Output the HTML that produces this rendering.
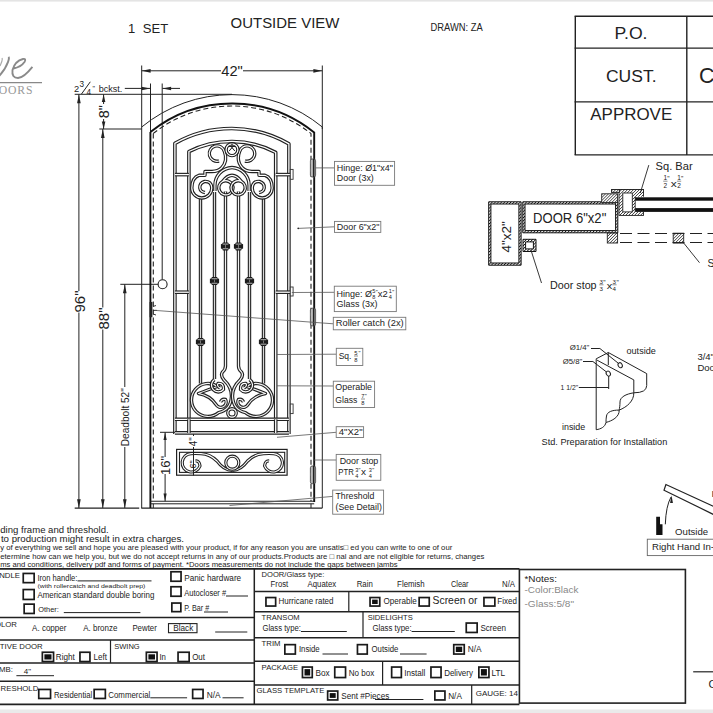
<!DOCTYPE html>
<html><head><meta charset="utf-8"><style>html,body{margin:0;padding:0;background:#fff;} svg{display:block;}</style></head>
<body><svg width="713" height="713" viewBox="0 0 713 713" font-family="Liberation Sans, sans-serif">
<rect x="0" y="0" width="713" height="713" fill="#fff"/>
<rect x="0" y="0" width="713" height="1.6" fill="#e4e4e4"/>
<rect x="0" y="709.5" width="713" height="3.5" fill="#eaeaea"/>
<text x="127.9" y="32.5" font-size="13" fill="#222" text-anchor="start" font-family="Liberation Sans" >1</text>
<text x="142.8" y="32.5" font-size="13" fill="#222" text-anchor="start" font-family="Liberation Sans" textLength="25.4" lengthAdjust="spacingAndGlyphs" >SET</text>
<text x="230.6" y="28.3" font-size="15.5" fill="#222" text-anchor="start" font-family="Liberation Sans" textLength="108.8" lengthAdjust="spacingAndGlyphs" >OUTSIDE VIEW</text>
<text x="430.5" y="30.7" font-size="10.4" fill="#222" text-anchor="start" font-family="Liberation Sans" textLength="52.2" lengthAdjust="spacingAndGlyphs" >DRAWN: ZA</text>
<line x1="574.6" y1="16.2" x2="713" y2="16.2" stroke="#222" stroke-width="1.4" />
<line x1="574.6" y1="48.1" x2="713" y2="48.1" stroke="#222" stroke-width="1.4" />
<line x1="574.6" y1="101.9" x2="713" y2="101.9" stroke="#222" stroke-width="1.4" />
<line x1="574.6" y1="154.9" x2="713" y2="154.9" stroke="#222" stroke-width="1.4" />
<line x1="575.3" y1="16.2" x2="575.3" y2="154.9" stroke="#222" stroke-width="1.4" />
<line x1="686.8" y1="16.2" x2="686.8" y2="154.9" stroke="#222" stroke-width="1.4" />
<text x="614.5" y="38.7" font-size="16.5" fill="#222" text-anchor="start" font-family="Liberation Sans" textLength="33" lengthAdjust="spacingAndGlyphs" >P.O.</text>
<text x="606" y="81.7" font-size="17.2" fill="#222" text-anchor="start" font-family="Liberation Sans" textLength="50.5" lengthAdjust="spacingAndGlyphs" >CUST.</text>
<text x="590.3" y="119.9" font-size="17.2" fill="#222" text-anchor="start" font-family="Liberation Sans" textLength="81.9" lengthAdjust="spacingAndGlyphs" >APPROVE</text>
<text x="699" y="82.6" font-size="21.5" fill="#222" text-anchor="start" font-family="Liberation Sans" >C</text>
<path d="M-1,76 Q5,70 8,62 Q9.5,58 8.5,56.8" stroke="#8a8a8a" stroke-width="2.0" fill="none" />
<path d="M0,66 Q3,60 2,58" stroke="#aaa" stroke-width="1.2" fill="none" />
<path d="M13.5,68.5 Q21,67 24.5,62 Q26.5,58.5 23,59 Q15,61 12.5,70 Q11.5,78 18,78 Q24,77.5 32.4,66.8" stroke="#8a8a8a" stroke-width="1.9" fill="none" />
<line x1="0" y1="82.6" x2="42" y2="82.6" stroke="#888" stroke-width="1.2" />
<text x="33.2" y="94.4" font-size="11.7" fill="#999" text-anchor="end" font-family="Liberation Serif" letter-spacing="0.8">OORS</text>
<line x1="141.7" y1="65.5" x2="141.7" y2="508.1" stroke="#222" stroke-width="1.0" />
<line x1="322.3" y1="65.5" x2="322.3" y2="129" stroke="#222" stroke-width="1.0" />
<line x1="141.7" y1="70.8" x2="221" y2="70.8" stroke="#222" stroke-width="1.0" />
<line x1="243" y1="70.8" x2="322.3" y2="70.8" stroke="#222" stroke-width="1.0" />
<path d="M141.9,70.8 L150.65,68.96 L150.65,72.64 Z" fill="#222"/>
<path d="M322.1,70.8 L313.35,68.96 L313.35,72.64 Z" fill="#222"/>
<text x="232" y="76.3" font-size="14.5" fill="#222" text-anchor="middle" font-family="Liberation Sans" textLength="21.5" lengthAdjust="spacingAndGlyphs" >42"</text>
<line x1="150.5" y1="83.5" x2="150.5" y2="134" stroke="#222" stroke-width="1.0" />
<line x1="162.2" y1="83.5" x2="162.2" y2="279.5" stroke="#222" stroke-width="1.0" />
<line x1="124.8" y1="88.4" x2="150.3" y2="88.4" stroke="#222" stroke-width="1.0" />
<path d="M150.3,88.4 L141.55,86.64 L141.55,90.16000000000001 Z" fill="#222"/>
<line x1="162.4" y1="88.4" x2="180" y2="88.4" stroke="#222" stroke-width="1.0" />
<path d="M162.4,88.4 L171.15,86.64 L171.15,90.16000000000001 Z" fill="#222"/>
<text x="73.9" y="91.9" font-size="9.3" fill="#222" text-anchor="start" font-family="Liberation Sans" >2</text>
<text x="79.6" y="87.3" font-size="8.2" fill="#222" text-anchor="start" font-family="Liberation Sans" >3</text>
<path d="M81.5,94 L90.3,81.8" stroke="#222" stroke-width="1.0" fill="none" />
<text x="86.4" y="95.3" font-size="8.2" fill="#222" text-anchor="start" font-family="Liberation Sans" >4</text>
<text x="92.6" y="90.5" font-size="7" fill="#222" text-anchor="start" font-family="Liberation Sans" >"</text>
<text x="98.7" y="91.9" font-size="9.3" fill="#222" text-anchor="start" font-family="Liberation Sans" textLength="23.6" lengthAdjust="spacingAndGlyphs" >bckst.</text>
<line x1="74.7" y1="94.3" x2="232" y2="94.3" stroke="#222" stroke-width="1.0" />
<line x1="78.9" y1="94.3" x2="78.9" y2="291" stroke="#222" stroke-width="1.0" />
<line x1="78.9" y1="312.5" x2="78.9" y2="508" stroke="#222" stroke-width="1.0" />
<path d="M78.9,94.5 L77.06,103.25 L80.74000000000001,103.25 Z" fill="#222"/>
<path d="M78.9,508 L77.06,499.25 L80.74000000000001,499.25 Z" fill="#222"/>
<text x="0" y="0" font-size="15" fill="#222" font-family="Liberation Sans" text-anchor="middle" transform="translate(84.6,301.5) rotate(-90)">96"</text>
<line x1="103.6" y1="94.3" x2="103.6" y2="104" stroke="#222" stroke-width="1.0" />
<line x1="103.6" y1="119" x2="103.6" y2="129" stroke="#222" stroke-width="1.0" />
<path d="M103.6,94.5 L101.83999999999999,102.0 L105.36,102.0 Z" fill="#222"/>
<path d="M103.6,129 L101.83999999999999,121.5 L105.36,121.5 Z" fill="#222"/>
<text x="0" y="0" font-size="14.5" fill="#222" font-family="Liberation Sans" text-anchor="middle" transform="translate(108.6,111.7) rotate(-90)">8"</text>
<line x1="99.3" y1="129" x2="141.7" y2="129" stroke="#222" stroke-width="1.0" />
<line x1="102.8" y1="129" x2="102.8" y2="307.5" stroke="#222" stroke-width="1.0" />
<line x1="102.8" y1="329.5" x2="102.8" y2="508" stroke="#222" stroke-width="1.0" />
<path d="M102.8,129.3 L100.96,138.05 L104.64,138.05 Z" fill="#222"/>
<path d="M102.8,508 L100.96,499.25 L104.64,499.25 Z" fill="#222"/>
<text x="0" y="0" font-size="15" fill="#222" font-family="Liberation Sans" text-anchor="middle" transform="translate(108.6,318.5) rotate(-90)">88"</text>
<line x1="120.3" y1="284.3" x2="158.1" y2="284.3" stroke="#222" stroke-width="1.0" />
<line x1="124.8" y1="284.3" x2="124.8" y2="387" stroke="#222" stroke-width="1.0" />
<line x1="124.8" y1="447" x2="124.8" y2="508" stroke="#222" stroke-width="1.0" />
<path d="M124.8,284.6 L122.96,293.35 L126.64,293.35 Z" fill="#222"/>
<path d="M124.8,508 L122.96,499.25 L126.64,499.25 Z" fill="#222"/>
<text x="0" y="0" font-size="10.3" fill="#222" font-family="Liberation Sans" text-anchor="middle" transform="translate(128.9,417.2) rotate(-90)" textLength="58" lengthAdjust="spacingAndGlyphs">Deadbolt 52"</text>
<circle cx="162.6" cy="284.3" r="4.5" fill="none" stroke="#222" stroke-width="1.1"/>
<line x1="74.7" y1="508.1" x2="139.2" y2="508.1" stroke="#222" stroke-width="1.2" />
<line x1="141.3" y1="508.1" x2="322.3" y2="508.1" stroke="#222" stroke-width="1.2" />
<path d="M141.7,127.01 A142,142 0 0 1 322.3,127.01" stroke="#222" stroke-width="1.0" fill="none" />
<line x1="322.3" y1="127" x2="322.3" y2="508.1" stroke="#222" stroke-width="1.0" />
<path d="M150.4,131.99 A131.1,131.1 0 0 1 314.2,132.47 L314.2,502 M150.4,131.99 L150.4,508" stroke="#111" stroke-width="1.9" fill="none" />
<path d="M153.3,133.41 A126.7,126.7 0 0 1 311.0,133.65 L311,501 M153.3,133.41 L153.3,501" stroke="#222" stroke-width="1.1" fill="none" stroke-dasharray="5,3"/>
<line x1="150.4" y1="501.3" x2="314.2" y2="501.3" stroke="#222" stroke-width="1.1" />
<line x1="150.4" y1="503.8" x2="314.2" y2="503.8" stroke="#222" stroke-width="1.0" />
<line x1="153.3" y1="503.8" x2="153.3" y2="508" stroke="#222" stroke-width="1.0" />
<line x1="311" y1="503.8" x2="311" y2="508" stroke="#222" stroke-width="1.0" />
<path d="M174.9,433.9 L174.9,143.34 A115,115 0 0 1 288.9,143.91 L288.9,433.9" stroke="#222" stroke-width="3.6" fill="none" stroke-linecap="butt" stroke-linejoin="round"/>
<path d="M174.9,433.9 L174.9,143.34 A115,115 0 0 1 288.9,143.91 L288.9,433.9" stroke="#fff" stroke-width="1.3" fill="none" stroke-linecap="butt" stroke-linejoin="round"/>
<path d="M188.9,419.5 L188.9,151.54 A95,95 0 0 1 275.7,152.46 L275.7,419.5" stroke="#222" stroke-width="3.6" fill="none" stroke-linecap="butt" stroke-linejoin="round"/>
<path d="M188.9,419.5 L188.9,151.54 A95,95 0 0 1 275.7,152.46 L275.7,419.5" stroke="#fff" stroke-width="1.3" fill="none" stroke-linecap="butt" stroke-linejoin="round"/>
<path d="M174.9,174.6 L188.9,174.6" stroke="#222" stroke-width="3.6" fill="none" stroke-linecap="butt" stroke-linejoin="round"/>
<path d="M174.9,174.6 L188.9,174.6" stroke="#fff" stroke-width="1.3" fill="none" stroke-linecap="butt" stroke-linejoin="round"/>
<path d="M275.7,174.6 L291.5,174.6" stroke="#222" stroke-width="3.6" fill="none" stroke-linecap="butt" stroke-linejoin="round"/>
<path d="M275.7,174.6 L291.5,174.6" stroke="#fff" stroke-width="1.3" fill="none" stroke-linecap="butt" stroke-linejoin="round"/>
<path d="M174.9,292.2 L188.9,292.2" stroke="#222" stroke-width="3.6" fill="none" stroke-linecap="butt" stroke-linejoin="round"/>
<path d="M174.9,292.2 L188.9,292.2" stroke="#fff" stroke-width="1.3" fill="none" stroke-linecap="butt" stroke-linejoin="round"/>
<path d="M275.7,292.2 L291.5,292.2" stroke="#222" stroke-width="3.6" fill="none" stroke-linecap="butt" stroke-linejoin="round"/>
<path d="M275.7,292.2 L291.5,292.2" stroke="#fff" stroke-width="1.3" fill="none" stroke-linecap="butt" stroke-linejoin="round"/>
<path d="M174.9,419.3 L288.9,419.3" stroke="#222" stroke-width="3.6" fill="none" stroke-linecap="butt" stroke-linejoin="round"/>
<path d="M174.9,419.3 L288.9,419.3" stroke="#fff" stroke-width="1.3" fill="none" stroke-linecap="butt" stroke-linejoin="round"/>
<path d="M174.9,432.9 L288.9,432.9" stroke="#222" stroke-width="3.6" fill="none" stroke-linecap="butt" stroke-linejoin="round"/>
<path d="M174.9,432.9 L288.9,432.9" stroke="#fff" stroke-width="1.3" fill="none" stroke-linecap="butt" stroke-linejoin="round"/>
<path d="M188.9,419.3 L188.9,432.9" stroke="#222" stroke-width="3.6" fill="none" stroke-linecap="butt" stroke-linejoin="round"/>
<path d="M188.9,419.3 L188.9,432.9" stroke="#fff" stroke-width="1.3" fill="none" stroke-linecap="butt" stroke-linejoin="round"/>
<path d="M275.7,419.3 L275.7,432.9" stroke="#222" stroke-width="3.6" fill="none" stroke-linecap="butt" stroke-linejoin="round"/>
<path d="M275.7,419.3 L275.7,432.9" stroke="#fff" stroke-width="1.3" fill="none" stroke-linecap="butt" stroke-linejoin="round"/>
<rect x="290.3" y="169.4" width="2.8" height="9.900000000000006" stroke="#333" stroke-width="0.9" fill="#fff" />
<rect x="290.3" y="287" width="2.8" height="9" stroke="#333" stroke-width="0.9" fill="#fff" />
<rect x="290.3" y="404" width="2.8" height="9.600000000000023" stroke="#333" stroke-width="0.9" fill="#fff" />
<rect x="310.4" y="159" width="5.2" height="18" rx="1.8" fill="#bbb" stroke="#555" stroke-width="0.9"/>
<line x1="313.7" y1="159" x2="313.7" y2="177" stroke="#222" stroke-width="1.6" />
<rect x="310.4" y="308.2" width="5.2" height="17.69999999999999" rx="1.8" fill="#bbb" stroke="#555" stroke-width="0.9"/>
<line x1="313.7" y1="308.2" x2="313.7" y2="325.9" stroke="#222" stroke-width="1.6" />
<rect x="310.4" y="466" width="5.2" height="17.69999999999999" rx="1.8" fill="#bbb" stroke="#555" stroke-width="0.9"/>
<line x1="313.7" y1="466" x2="313.7" y2="483.7" stroke="#222" stroke-width="1.6" />
<rect x="149.6" y="302" width="2.8" height="15.2" stroke="#222" stroke-width="0" fill="#222" />
<path d="M153,306.5 L156,305.5 M153,310.4 L157,310.4 M153,314 L156,315" stroke="#222" stroke-width="0.9" fill="none" />
<path d="M200.5,197 L200.5,383.5" stroke="#222" stroke-width="3.4" fill="none" stroke-linecap="butt" stroke-linejoin="round"/>
<path d="M200.5,197 L200.5,383.5" stroke="#d8d8d8" stroke-width="1.2" fill="none" stroke-linecap="butt" stroke-linejoin="round"/>
<path d="M 263.50 197 L 263.50 383.5" stroke="#222" stroke-width="3.4" fill="none" stroke-linecap="butt" stroke-linejoin="round"/>
<path d="M 263.50 197 L 263.50 383.5" stroke="#d8d8d8" stroke-width="1.2" fill="none" stroke-linecap="butt" stroke-linejoin="round"/>
<path d="M214.5,192 L214.5,379" stroke="#222" stroke-width="3.4" fill="none" stroke-linecap="butt" stroke-linejoin="round"/>
<path d="M214.5,192 L214.5,379" stroke="#d8d8d8" stroke-width="1.2" fill="none" stroke-linecap="butt" stroke-linejoin="round"/>
<path d="M 249.50 192 L 249.50 379" stroke="#222" stroke-width="3.4" fill="none" stroke-linecap="butt" stroke-linejoin="round"/>
<path d="M 249.50 192 L 249.50 379" stroke="#d8d8d8" stroke-width="1.2" fill="none" stroke-linecap="butt" stroke-linejoin="round"/>
<path d="M225.5,191.5 L225.5,366 Q225.5,369.5 222.5,372 Q220,375.5 224,380 Q231.5,387 231.5,396 Q231,410 218.6,412.6 A16.5,16.5 0 1 1 217.5,386.5 Q210,389 198.5,393.5 Q210,395.5 216,404.5 A5.3,5.3 0 1 0 225.5,399.5 Q222,398.5 220.5,402" stroke="#222" stroke-width="3.4" fill="none" stroke-linecap="butt" stroke-linejoin="round"/>
<path d="M225.5,191.5 L225.5,366 Q225.5,369.5 222.5,372 Q220,375.5 224,380 Q231.5,387 231.5,396 Q231,410 218.6,412.6 A16.5,16.5 0 1 1 217.5,386.5 Q210,389 198.5,393.5 Q210,395.5 216,404.5 A5.3,5.3 0 1 0 225.5,399.5 Q222,398.5 220.5,402" stroke="#f2f2f2" stroke-width="1.2" fill="none" stroke-linecap="butt" stroke-linejoin="round"/>
<path d="M 238.50 191.5 L 238.50 366 Q 238.50 369.5 241.50 372 Q 244.00 375.5 240.00 380 Q 232.50 387 232.50 396 Q 233.00 410 245.40 412.6 A 16.5 16.5 0 1 0 246.50 386.5 Q 254.00 389 265.50 393.5 Q 254.00 395.5 248.00 404.5 A 5.3 5.3 0 1 1 238.50 399.5 Q 242.00 398.5 243.50 402" stroke="#222" stroke-width="3.4" fill="none" stroke-linecap="butt" stroke-linejoin="round"/>
<path d="M 238.50 191.5 L 238.50 366 Q 238.50 369.5 241.50 372 Q 244.00 375.5 240.00 380 Q 232.50 387 232.50 396 Q 233.00 410 245.40 412.6 A 16.5 16.5 0 1 0 246.50 386.5 Q 254.00 389 265.50 393.5 Q 254.00 395.5 248.00 404.5 A 5.3 5.3 0 1 1 238.50 399.5 Q 242.00 398.5 243.50 402" stroke="#f2f2f2" stroke-width="1.2" fill="none" stroke-linecap="butt" stroke-linejoin="round"/>
<path d="M214.5,379.5 A6.8,6.8 0 1 0 223.5,389.5 Q224,383 218,383.5 Q216.5,386 220,388" stroke="#222" stroke-width="3.4" fill="none" stroke-linecap="butt" stroke-linejoin="round"/>
<path d="M214.5,379.5 A6.8,6.8 0 1 0 223.5,389.5 Q224,383 218,383.5 Q216.5,386 220,388" stroke="#fff" stroke-width="1.2" fill="none" stroke-linecap="butt" stroke-linejoin="round"/>
<path d="M 249.50 379.5 A 6.8 6.8 0 1 1 240.50 389.5 Q 240.00 383 246.00 383.5 Q 247.50 386 244.00 388" stroke="#222" stroke-width="3.4" fill="none" stroke-linecap="butt" stroke-linejoin="round"/>
<path d="M 249.50 379.5 A 6.8 6.8 0 1 1 240.50 389.5 Q 240.00 383 246.00 383.5 Q 247.50 386 244.00 388" stroke="#fff" stroke-width="1.2" fill="none" stroke-linecap="butt" stroke-linejoin="round"/>
<path d="M232,413 m-4.2,0 a4.2,4.2 0 1 0 8.4,0 a4.2,4.2 0 1 0 -8.4,0" stroke="#222" stroke-width="3.4" fill="none" stroke-linecap="butt" stroke-linejoin="round"/>
<path d="M232,413 m-4.2,0 a4.2,4.2 0 1 0 8.4,0 a4.2,4.2 0 1 0 -8.4,0" stroke="#fff" stroke-width="1.2" fill="none" stroke-linecap="butt" stroke-linejoin="round"/>
<path d="M219,161 A7.7,7.7 0 1 1 224.4,151.5 C226.5,157 226.3,163 221.5,168 Q218,171.5 212,171.5 L205,171.5 L205,175.3 L199,175.3 Q192,177.5 191.8,188 A10,10 0 0 0 211.8,188 Q211.5,181 204.5,181.5 Q199.5,183 199.8,188 Q200.5,192 205,192.5" stroke="#222" stroke-width="3.4" fill="none" stroke-linecap="butt" stroke-linejoin="round"/>
<path d="M219,161 A7.7,7.7 0 1 1 224.4,151.5 C226.5,157 226.3,163 221.5,168 Q218,171.5 212,171.5 L205,171.5 L205,175.3 L199,175.3 Q192,177.5 191.8,188 A10,10 0 0 0 211.8,188 Q211.5,181 204.5,181.5 Q199.5,183 199.8,188 Q200.5,192 205,192.5" stroke="#fff" stroke-width="1.2" fill="none" stroke-linecap="butt" stroke-linejoin="round"/>
<path d="M 245.00 161 A 7.7 7.7 0 1 0 239.60 151.5 C 237.50 157 237.70 163 242.50 168 Q 246.00 171.5 252.00 171.5 L 259.00 171.5 L 259.00 175.3 L 265.00 175.3 Q 272.00 177.5 272.20 188 A 10 10 0 0 1 252.20 188 Q 252.50 181 259.50 181.5 Q 264.50 183 264.20 188 Q 263.50 192 259.00 192.5" stroke="#222" stroke-width="3.4" fill="none" stroke-linecap="butt" stroke-linejoin="round"/>
<path d="M 245.00 161 A 7.7 7.7 0 1 0 239.60 151.5 C 237.50 157 237.70 163 242.50 168 Q 246.00 171.5 252.00 171.5 L 259.00 171.5 L 259.00 175.3 L 265.00 175.3 Q 272.00 177.5 272.20 188 A 10 10 0 0 1 252.20 188 Q 252.50 181 259.50 181.5 Q 264.50 183 264.20 188 Q 263.50 192 259.00 192.5" stroke="#fff" stroke-width="1.2" fill="none" stroke-linecap="butt" stroke-linejoin="round"/>
<path d="M214.9,191 L214.9,185.4 A17.85,17.85 0 0 1 232,167.55" stroke="#222" stroke-width="3.4" fill="none" stroke-linecap="butt" stroke-linejoin="round"/>
<path d="M214.9,191 L214.9,185.4 A17.85,17.85 0 0 1 232,167.55" stroke="#fff" stroke-width="1.2" fill="none" stroke-linecap="butt" stroke-linejoin="round"/>
<path d="M 249.10 191 L 249.10 185.4 A 17.85 17.85 0 0 0 232.00 167.55" stroke="#222" stroke-width="3.4" fill="none" stroke-linecap="butt" stroke-linejoin="round"/>
<path d="M 249.10 191 L 249.10 185.4 A 17.85 17.85 0 0 0 232.00 167.55" stroke="#fff" stroke-width="1.2" fill="none" stroke-linecap="butt" stroke-linejoin="round"/>
<path d="M222.5,181.5 Q227,175.5 232,175.3 M222.5,181.5 Q228,179 232,184.2 M232,184.2 A7.1,7.1 0 1 1 222.5,181.5" stroke="#222" stroke-width="3.4" fill="none" stroke-linecap="butt" stroke-linejoin="round"/>
<path d="M222.5,181.5 Q227,175.5 232,175.3 M222.5,181.5 Q228,179 232,184.2 M232,184.2 A7.1,7.1 0 1 1 222.5,181.5" stroke="#fff" stroke-width="1.2" fill="none" stroke-linecap="butt" stroke-linejoin="round"/>
<path d="M 241.50 181.5 Q 237.00 175.5 232.00 175.3 M 241.50 181.5 Q 236.00 179 232.00 184.2 M 232.00 184.2 A 7.1 7.1 0 1 0 241.50 181.5" stroke="#222" stroke-width="3.4" fill="none" stroke-linecap="butt" stroke-linejoin="round"/>
<path d="M 241.50 181.5 Q 237.00 175.5 232.00 175.3 M 241.50 181.5 Q 236.00 179 232.00 184.2 M 232.00 184.2 A 7.1 7.1 0 1 0 241.50 181.5" stroke="#fff" stroke-width="1.2" fill="none" stroke-linecap="butt" stroke-linejoin="round"/>
<path d="M232,149.7 m-5.9,0 a5.9,5.9 0 1 0 11.8,0 a5.9,5.9 0 1 0 -11.8,0" stroke="#222" stroke-width="3.4" fill="none" stroke-linecap="butt" stroke-linejoin="round"/>
<path d="M232,149.7 m-5.9,0 a5.9,5.9 0 1 0 11.8,0 a5.9,5.9 0 1 0 -11.8,0" stroke="#fff" stroke-width="1.2" fill="none" stroke-linecap="butt" stroke-linejoin="round"/>
<path d="M228.8,146.5 L235.2,146.5 M232,143.5 L232,148.5 M229.2,151 L232,147.5 L234.8,151" stroke="#222" stroke-width="1.0" fill="none" />
<path d="M222.9,242.4 L228.1,242.4 L228.7,243.8 L230.1,244.20000000000002 L230.1,248.6 L228.7,249.0 L228.1,250.4 L222.9,250.4 L222.3,249.0 L220.9,248.6 L220.9,244.20000000000002 L222.3,243.8 Z" fill="#1c1c1c"/>
<rect x="222.7" y="243.5" width="5.6" height="1.2" fill="#999"/>
<rect x="222.7" y="248.1" width="5.6" height="1.2" fill="#999"/>
<rect x="225.0" y="244.9" width="1" height="3" fill="#777"/>
<path d="M235.9,242.4 L241.1,242.4 L241.7,243.8 L243.1,244.20000000000002 L243.1,248.6 L241.7,249.0 L241.1,250.4 L235.9,250.4 L235.3,249.0 L233.9,248.6 L233.9,244.20000000000002 L235.3,243.8 Z" fill="#1c1c1c"/>
<rect x="235.7" y="243.5" width="5.6" height="1.2" fill="#999"/>
<rect x="235.7" y="248.1" width="5.6" height="1.2" fill="#999"/>
<rect x="238.0" y="244.9" width="1" height="3" fill="#777"/>
<path d="M211.9,277 L217.1,277 L217.7,278.4 L219.1,278.8 L219.1,283.2 L217.7,283.6 L217.1,285 L211.9,285 L211.3,283.6 L209.9,283.2 L209.9,278.8 L211.3,278.4 Z" fill="#1c1c1c"/>
<rect x="211.7" y="278.1" width="5.6" height="1.2" fill="#999"/>
<rect x="211.7" y="282.7" width="5.6" height="1.2" fill="#999"/>
<rect x="214.0" y="279.5" width="1" height="3" fill="#777"/>
<path d="M246.9,277 L252.1,277 L252.7,278.4 L254.1,278.8 L254.1,283.2 L252.7,283.6 L252.1,285 L246.9,285 L246.3,283.6 L244.9,283.2 L244.9,278.8 L246.3,278.4 Z" fill="#1c1c1c"/>
<rect x="246.7" y="278.1" width="5.6" height="1.2" fill="#999"/>
<rect x="246.7" y="282.7" width="5.6" height="1.2" fill="#999"/>
<rect x="249.0" y="279.5" width="1" height="3" fill="#777"/>
<path d="M197.9,337.9 L203.1,337.9 L203.7,339.29999999999995 L205.1,339.7 L205.1,344.09999999999997 L203.7,344.5 L203.1,345.9 L197.9,345.9 L197.3,344.5 L195.9,344.09999999999997 L195.9,339.7 L197.3,339.29999999999995 Z" fill="#1c1c1c"/>
<rect x="197.7" y="339.0" width="5.6" height="1.2" fill="#999"/>
<rect x="197.7" y="343.59999999999997" width="5.6" height="1.2" fill="#999"/>
<rect x="200.0" y="340.4" width="1" height="3" fill="#777"/>
<path d="M260.9,337.9 L266.1,337.9 L266.7,339.29999999999995 L268.1,339.7 L268.1,344.09999999999997 L266.7,344.5 L266.1,345.9 L260.9,345.9 L260.3,344.5 L258.9,344.09999999999997 L258.9,339.7 L260.3,339.29999999999995 Z" fill="#1c1c1c"/>
<rect x="260.7" y="339.0" width="5.6" height="1.2" fill="#999"/>
<rect x="260.7" y="343.59999999999997" width="5.6" height="1.2" fill="#999"/>
<rect x="263.0" y="340.4" width="1" height="3" fill="#777"/>
<rect x="176.6" y="449.4" width="110.5" height="25.8" stroke="#222" stroke-width="1.2" fill="none" />
<rect x="179.5" y="452.3" width="105.2" height="20.1" stroke="#222" stroke-width="1.1" fill="none" />
<path d="M232.3,470.3 Q224,470.5 217,461 Q210,454 201,453.6 Q195,453.4 191,453.6 A9.2,9.2 0 1 0 200,466 Q199.5,460.5 195.5,461" stroke="#222" stroke-width="3.2" fill="none" stroke-linecap="butt" stroke-linejoin="round"/>
<path d="M232.3,470.3 Q224,470.5 217,461 Q210,454 201,453.6 Q195,453.4 191,453.6 A9.2,9.2 0 1 0 200,466 Q199.5,460.5 195.5,461" stroke="#fff" stroke-width="1.1" fill="none" stroke-linecap="butt" stroke-linejoin="round"/>
<path d="M 232.30 470.3 Q 240.60 470.5 247.60 461 Q 254.60 454 263.60 453.6 Q 269.60 453.4 273.60 453.6 A 9.2 9.2 0 1 1 264.60 466 Q 265.10 460.5 269.10 461" stroke="#222" stroke-width="3.2" fill="none" stroke-linecap="butt" stroke-linejoin="round"/>
<path d="M 232.30 470.3 Q 240.60 470.5 247.60 461 Q 254.60 454 263.60 453.6 Q 269.60 453.4 273.60 453.6 A 9.2 9.2 0 1 1 264.60 466 Q 265.10 460.5 269.10 461" stroke="#fff" stroke-width="1.1" fill="none" stroke-linecap="butt" stroke-linejoin="round"/>
<path d="M232.3,462.7 m-6.5,0 a6.5,6.5 0 1 0 13,0 a6.5,6.5 0 1 0 -13,0" stroke="#222" stroke-width="3.2" fill="none" stroke-linecap="butt" stroke-linejoin="round"/>
<path d="M232.3,462.7 m-6.5,0 a6.5,6.5 0 1 0 13,0 a6.5,6.5 0 1 0 -13,0" stroke="#fff" stroke-width="1.1" fill="none" stroke-linecap="butt" stroke-linejoin="round"/>
<line x1="160" y1="432.3" x2="175" y2="432.3" stroke="#222" stroke-width="1.0" />
<line x1="165.1" y1="432.3" x2="165.1" y2="457" stroke="#222" stroke-width="1.0" />
<line x1="165.1" y1="474" x2="165.1" y2="501.3" stroke="#222" stroke-width="1.0" />
<path d="M165.1,432.6 L163.5,440.1 L166.7,440.1 Z" fill="#222"/>
<path d="M165.1,501 L163.5,493.5 L166.7,493.5 Z" fill="#222"/>
<text x="0" y="0" font-size="13" fill="#222" font-family="Liberation Sans" text-anchor="middle" transform="translate(169.8,465.4) rotate(-90)">16"</text>
<line x1="193.5" y1="434" x2="193.5" y2="436" stroke="#222" stroke-width="1.0" />
<line x1="193.5" y1="447" x2="193.5" y2="475.5" stroke="#222" stroke-width="1.0" />
<text x="0" y="0" font-size="10" fill="#222" font-family="Liberation Sans" text-anchor="middle" transform="translate(197,441.8) rotate(-90)">4"</text>
<text x="0" y="0" font-size="9" fill="#222" font-family="Liberation Sans" text-anchor="middle" transform="translate(195.8,464.5) rotate(-90)">6"</text>
<line x1="315.5" y1="167.9" x2="334.5" y2="167.9" stroke="#555" stroke-width="0.8" />
<line x1="298.2" y1="228.4" x2="334.5" y2="226.8" stroke="#555" stroke-width="0.8" />
<circle cx="298.2" cy="228.4" r="0.8" fill="#222"/>
<line x1="291.8" y1="292.5" x2="334.3" y2="292.3" stroke="#555" stroke-width="0.8" />
<line x1="155" y1="310.4" x2="333.3" y2="323.8" stroke="#555" stroke-width="0.8" />
<line x1="277" y1="354.5" x2="336.3" y2="354.2" stroke="#555" stroke-width="0.8" />
<line x1="277" y1="385.8" x2="333.3" y2="386" stroke="#555" stroke-width="0.8" />
<line x1="277" y1="437.3" x2="336.2" y2="432.3" stroke="#555" stroke-width="0.8" />
<line x1="314" y1="460" x2="336.2" y2="460" stroke="#555" stroke-width="0.8" />
<line x1="229.5" y1="505.5" x2="332.7" y2="496.4" stroke="#555" stroke-width="0.8" />
<rect x="334.5" y="161.4" width="60.10000000000002" height="23.900000000000006" stroke="#777" stroke-width="0.9" fill="#fff" />
<text x="336.8" y="170.7" font-size="8.6" fill="#222" text-anchor="start" font-family="Liberation Sans" textLength="56.1" lengthAdjust="spacingAndGlyphs" >Hinge: Ø1"x4"</text>
<text x="336.8" y="181.4" font-size="8.6" fill="#222" text-anchor="start" font-family="Liberation Sans" textLength="37" lengthAdjust="spacingAndGlyphs" >Door (3x)</text>
<rect x="334.5" y="221.4" width="46.30000000000001" height="11.0" stroke="#777" stroke-width="0.9" fill="#fff" />
<text x="336.8" y="230.4" font-size="8.6" fill="#222" text-anchor="start" font-family="Liberation Sans" textLength="42.6" lengthAdjust="spacingAndGlyphs" >Door 6"x2"</text>
<rect x="334.3" y="286.2" width="62.0" height="25.400000000000034" stroke="#777" stroke-width="0.9" fill="#fff" />
<text x="336.6" y="296.7" font-size="8.6" fill="#222" text-anchor="start" font-family="Liberation Sans" textLength="35.5" lengthAdjust="spacingAndGlyphs" >Hinge: Ø</text>
<text x="372.3" y="293.2" font-size="5.6" fill="#222" text-anchor="start" font-family="Liberation Sans" >5</text>
<text x="372.3" y="299.3" font-size="5.6" fill="#222" text-anchor="start" font-family="Liberation Sans" >8</text>
<text x="375.8" y="293.5" font-size="5.5" fill="#222" text-anchor="start" font-family="Liberation Sans" >"</text>
<text x="377.8" y="296.7" font-size="8.6" fill="#222" text-anchor="start" font-family="Liberation Sans" textLength="10" lengthAdjust="spacingAndGlyphs" >x2</text>
<text x="388.8" y="293.2" font-size="5.6" fill="#222" text-anchor="start" font-family="Liberation Sans" >1</text>
<text x="388.8" y="299.3" font-size="5.6" fill="#222" text-anchor="start" font-family="Liberation Sans" >4</text>
<text x="392.3" y="293.5" font-size="5.5" fill="#222" text-anchor="start" font-family="Liberation Sans" >"</text>
<text x="336.6" y="307.4" font-size="8.6" fill="#222" text-anchor="start" font-family="Liberation Sans" textLength="40.9" lengthAdjust="spacingAndGlyphs" >Glass (3x)</text>
<rect x="333.3" y="317.3" width="72.5" height="12.5" stroke="#777" stroke-width="0.9" fill="#fff" />
<text x="335.7" y="325.9" font-size="8.6" fill="#222" text-anchor="start" font-family="Liberation Sans" textLength="68" lengthAdjust="spacingAndGlyphs" >Roller catch  (2x)</text>
<rect x="336.3" y="348.3" width="26.5" height="17.19999999999999" stroke="#777" stroke-width="0.9" fill="#fff" />
<text x="338.7" y="358.7" font-size="8.6" fill="#222" text-anchor="start" font-family="Liberation Sans" textLength="12.8" lengthAdjust="spacingAndGlyphs" >Sq.</text>
<text x="354.3" y="355.2" font-size="5.8" fill="#222" text-anchor="start" font-family="Liberation Sans" >5</text>
<text x="354.3" y="361.5" font-size="5.8" fill="#222" text-anchor="start" font-family="Liberation Sans" >8</text>
<line x1="354" y1="356" x2="358" y2="356" stroke="#222" stroke-width="0.5" />
<text x="358.6" y="354.5" font-size="5.5" fill="#222" text-anchor="start" font-family="Liberation Sans" >"</text>
<rect x="333.3" y="381.2" width="41.30000000000001" height="26.30000000000001" stroke="#777" stroke-width="0.9" fill="#fff" />
<text x="335.3" y="389.6" font-size="8.6" fill="#222" text-anchor="start" font-family="Liberation Sans" textLength="36.8" lengthAdjust="spacingAndGlyphs" >Operable</text>
<text x="335.3" y="402.8" font-size="8.6" fill="#222" text-anchor="start" font-family="Liberation Sans" textLength="22" lengthAdjust="spacingAndGlyphs" >Glass</text>
<text x="361.2" y="398.2" font-size="5.8" fill="#222" text-anchor="start" font-family="Liberation Sans" >7</text>
<text x="361.2" y="404.5" font-size="5.8" fill="#222" text-anchor="start" font-family="Liberation Sans" >8</text>
<line x1="361" y1="399" x2="365" y2="399" stroke="#222" stroke-width="0.5" />
<text x="364.8" y="397.5" font-size="5.5" fill="#222" text-anchor="start" font-family="Liberation Sans" >"</text>
<rect x="336.2" y="426.7" width="27.400000000000034" height="10.800000000000011" stroke="#777" stroke-width="0.9" fill="#fff" />
<text x="338.7" y="435.4" font-size="8.6" fill="#222" text-anchor="start" font-family="Liberation Sans" textLength="23.9" lengthAdjust="spacingAndGlyphs" >4"X2"</text>
<rect x="336.2" y="454.4" width="44.60000000000002" height="25.900000000000034" stroke="#777" stroke-width="0.9" fill="#fff" />
<text x="339.7" y="463.5" font-size="8.6" fill="#222" text-anchor="start" font-family="Liberation Sans" textLength="38.6" lengthAdjust="spacingAndGlyphs" >Door stop</text>
<text x="338.3" y="475.4" font-size="8.6" fill="#222" text-anchor="start" font-family="Liberation Sans" textLength="15.5" lengthAdjust="spacingAndGlyphs" >PTR</text>
<text x="355.2" y="471.6" font-size="5.6" fill="#222" text-anchor="start" font-family="Liberation Sans" >3</text>
<text x="355.2" y="477.8" font-size="5.6" fill="#222" text-anchor="start" font-family="Liberation Sans" >4</text>
<text x="358.6" y="472" font-size="5.5" fill="#222" text-anchor="start" font-family="Liberation Sans" >"</text>
<text x="361" y="475.4" font-size="8.6" fill="#222" text-anchor="start" font-family="Liberation Sans" textLength="5" lengthAdjust="spacingAndGlyphs" >x</text>
<text x="368.8" y="471.6" font-size="5.6" fill="#222" text-anchor="start" font-family="Liberation Sans" >3</text>
<text x="368.8" y="477.8" font-size="5.6" fill="#222" text-anchor="start" font-family="Liberation Sans" >4</text>
<text x="372.3" y="472" font-size="5.5" fill="#222" text-anchor="start" font-family="Liberation Sans" >"</text>
<rect x="332.7" y="490.1" width="50.900000000000034" height="24.100000000000023" stroke="#777" stroke-width="0.9" fill="#fff" />
<text x="335.5" y="499" font-size="8.6" fill="#222" text-anchor="start" font-family="Liberation Sans" textLength="38.9" lengthAdjust="spacingAndGlyphs" >Threshold</text>
<text x="335.5" y="509.8" font-size="8.6" fill="#222" text-anchor="start" font-family="Liberation Sans" textLength="46.3" lengthAdjust="spacingAndGlyphs" >(See Detail)</text>
<defs><pattern id="hat" patternUnits="userSpaceOnUse" width="2.1" height="2.1" patternTransform="rotate(45)">
<rect width="2.1" height="2.1" fill="#fff"/><line x1="0" y1="0" x2="0" y2="2.1" stroke="#222" stroke-width="1.25"/></pattern>
<pattern id="hatd" patternUnits="userSpaceOnUse" width="2.2" height="2.2" patternTransform="rotate(45)">
<rect width="2.2" height="2.2" fill="#fff"/><line x1="0" y1="0" x2="0" y2="2.2" stroke="#111" stroke-width="1.6"/></pattern></defs>
<path d="M488.7,201.8 H521.1 V265.2 H488.7 Z M490.9,204.0 V263.0 H518.9 V204.0 Z" fill="url(#hatd)" fill-rule="evenodd" stroke="#111" stroke-width="1.0"/>
<path d="M522.8,201.8 H617.8 V232.8 H522.8 Z M525.0,204.0 V230.60000000000002 H615.5999999999999 V204.0 Z" fill="url(#hatd)" fill-rule="evenodd" stroke="#111" stroke-width="1.0"/>
<path d="M523,239.3 H536 V251.5 H523 Z M525.6,241.9 V248.9 H533.4 V241.9 Z" fill="url(#hatd)" fill-rule="evenodd" stroke="#111" stroke-width="1.0"/>
<rect x="601.7" y="193.8" width="15.899999999999977" height="8.599999999999994" stroke="#222" stroke-width="0.9" fill="url(#hat)" />
<rect x="611.6" y="189.5" width="31.899999999999977" height="2.8000000000000114" stroke="#222" stroke-width="0.9" fill="url(#hat)" />
<rect x="619" y="189.5" width="24.5" height="25.900000000000006" stroke="#222" stroke-width="0.9" fill="url(#hat)" />
<rect x="611.6" y="189.5" width="7.899999999999977" height="2.8000000000000114" stroke="#222" stroke-width="0.9" fill="url(#hat)" />
<rect x="622.8" y="193" width="9.5" height="18.9" fill="#fff" stroke="#222" stroke-width="0.9"/>
<rect x="635.2" y="196.7" width="9" height="15.3" fill="#fff"/>
<line x1="635.2" y1="196.7" x2="635.2" y2="212" stroke="#222" stroke-width="0.9" />
<rect x="607.3" y="233.1" width="10.300000000000068" height="9.900000000000006" stroke="#222" stroke-width="0.9" fill="url(#hat)" />
<rect x="673.2" y="233.2" width="10.5" height="9.900000000000006" stroke="#222" stroke-width="0.9" fill="url(#hat)" />
<rect x="635.2" y="197.3" width="78" height="3.4" stroke="#222" stroke-width="0" fill="#111" />
<rect x="635.2" y="208.1" width="78" height="3.8" stroke="#222" stroke-width="0" fill="#111" />
<line x1="620" y1="233.5" x2="713" y2="233.5" stroke="#222" stroke-width="1.1" stroke-dasharray="12,5.5"/>
<line x1="620" y1="242.5" x2="713" y2="242.5" stroke="#222" stroke-width="1.1" stroke-dasharray="12,5.5"/>
<text x="533" y="223.3" font-size="14" fill="#222" text-anchor="start" font-family="Liberation Sans" textLength="73.3" lengthAdjust="spacingAndGlyphs" >DOOR 6"x2"</text>
<text x="0" y="0" font-size="13.5" fill="#222" font-family="Liberation Sans" text-anchor="middle" transform="translate(510.5,236.9) rotate(-90)">4"x2"</text>
<line x1="531" y1="250.2" x2="541.5" y2="283" stroke="#222" stroke-width="0.9" />
<text x="550" y="288.6" font-size="11.2" fill="#222" text-anchor="start" font-family="Liberation Sans" textLength="46.6" lengthAdjust="spacingAndGlyphs" >Door stop</text>
<text x="599.5" y="284" font-size="6.2" fill="#222" text-anchor="start" font-family="Liberation Sans" >3</text>
<text x="599.5" y="290.5" font-size="6.2" fill="#222" text-anchor="start" font-family="Liberation Sans" >3</text>
<line x1="599.2" y1="284.8" x2="603.5" y2="284.8" stroke="#222" stroke-width="0.5" />
<text x="603.2" y="284.5" font-size="6.5" fill="#222" text-anchor="start" font-family="Liberation Sans" >"</text>
<text x="606.8" y="288.6" font-size="9.5" fill="#222" text-anchor="start" font-family="Liberation Sans" textLength="5.5" lengthAdjust="spacingAndGlyphs" >x</text>
<text x="612.6" y="284" font-size="6.2" fill="#222" text-anchor="start" font-family="Liberation Sans" >3</text>
<text x="612.6" y="290.5" font-size="6.2" fill="#222" text-anchor="start" font-family="Liberation Sans" >4</text>
<line x1="612.3" y1="284.8" x2="616.6" y2="284.8" stroke="#222" stroke-width="0.5" />
<text x="616.5" y="284.5" font-size="6.5" fill="#222" text-anchor="start" font-family="Liberation Sans" >"</text>
<line x1="648.8" y1="165.1" x2="640.3" y2="193" stroke="#222" stroke-width="0.9" />
<text x="655.6" y="170.3" font-size="10.8" fill="#222" text-anchor="start" font-family="Liberation Sans" textLength="37" lengthAdjust="spacingAndGlyphs" >Sq. Bar</text>
<text x="663.5" y="180.3" font-size="6.5" fill="#222" text-anchor="start" font-family="Liberation Sans" >1</text>
<text x="663.5" y="187.6" font-size="6.5" fill="#222" text-anchor="start" font-family="Liberation Sans" >2</text>
<line x1="663.2" y1="181.2" x2="667.5" y2="181.2" stroke="#222" stroke-width="0.5" />
<text x="667.3" y="180.5" font-size="6.5" fill="#222" text-anchor="start" font-family="Liberation Sans" >"</text>
<text x="670.8" y="186.8" font-size="9" fill="#222" text-anchor="start" font-family="Liberation Sans" textLength="6" lengthAdjust="spacingAndGlyphs" >x</text>
<text x="677.2" y="180.3" font-size="6.5" fill="#222" text-anchor="start" font-family="Liberation Sans" >1</text>
<text x="677.2" y="187.6" font-size="6.5" fill="#222" text-anchor="start" font-family="Liberation Sans" >2</text>
<line x1="676.9" y1="181.2" x2="681.2" y2="181.2" stroke="#222" stroke-width="0.5" />
<text x="681" y="180.5" font-size="6.5" fill="#222" text-anchor="start" font-family="Liberation Sans" >"</text>
<line x1="683.7" y1="243" x2="699.5" y2="262.7" stroke="#222" stroke-width="0.9" />
<text x="707.5" y="266.9" font-size="10.5" fill="#222" text-anchor="start" font-family="Liberation Sans" >S</text>
<path d="M596.2,429.7 L596.2,358.8 L608.3,352.5 L646.7,373.6 L646.7,385.5 Q646.7,392.8 633.8,392.8" stroke="#222" stroke-width="1.0" fill="none" />
<path d="M597.1,360.2 L633.8,379.9 L633.8,392.8 C634,401 627,407 619.2,410.1 C619.5,417 612,421 606,422.4 C605,427 601,429 596.2,429.7" stroke="#222" stroke-width="1.0" fill="none" />
<path d="M633.8,392.8 C626,394 620,397 620,402 C620,406 619.5,408 619.2,410.1 C612,410 607,412 606.5,416 C606,419 606,421 606,422.4" stroke="#222" stroke-width="1.0" fill="none" />
<ellipse cx="620.2" cy="365.2" rx="2" ry="2.6" fill="#fff" stroke="#222" stroke-width="1" transform="rotate(-30 620.2 365.2)"/>
<ellipse cx="608.3" cy="373.6" rx="2" ry="2.6" fill="#fff" stroke="#222" stroke-width="1" transform="rotate(-30 608.3 373.6)"/>
<path d="M608.3,352.5 L608.3,365" stroke="#222" stroke-width="1.0" fill="none" />
<path d="M608.7,376 L608.7,389 M608.7,387.5 L578.8,387.5" stroke="#222" stroke-width="1.0" fill="none" />
<path d="M591,348.5 L599.9,348.5 L618,363" stroke="#222" stroke-width="1.0" fill="none" />
<path d="M583,361.5 L592.9,361.5 L606.5,372" stroke="#222" stroke-width="1.0" fill="none" />
<text x="569.7" y="350.1" font-size="8" fill="#222" text-anchor="start" font-family="Liberation Sans" textLength="19.7" lengthAdjust="spacingAndGlyphs" >Ø1/4"</text>
<text x="562.7" y="363.8" font-size="8" fill="#222" text-anchor="start" font-family="Liberation Sans" textLength="19.6" lengthAdjust="spacingAndGlyphs" >Ø5/8"</text>
<text x="560.6" y="389.7" font-size="8" fill="#222" text-anchor="start" font-family="Liberation Sans" textLength="17.5" lengthAdjust="spacingAndGlyphs" >1 1/2"</text>
<text x="626.5" y="353.9" font-size="9" fill="#222" text-anchor="start" font-family="Liberation Sans" textLength="29.3" lengthAdjust="spacingAndGlyphs" >outside</text>
<text x="697.4" y="359.8" font-size="9.5" fill="#222" text-anchor="start" font-family="Liberation Sans" >3/4"</text>
<text x="697.4" y="371.3" font-size="9.5" fill="#222" text-anchor="start" font-family="Liberation Sans" >Doo</text>
<text x="562" y="429.7" font-size="9" fill="#222" text-anchor="start" font-family="Liberation Sans" textLength="23.2" lengthAdjust="spacingAndGlyphs" >inside</text>
<text x="541.6" y="444.7" font-size="9.5" fill="#222" text-anchor="start" font-family="Liberation Sans" textLength="125.7" lengthAdjust="spacingAndGlyphs" >Std. Preparation for Installation</text>
<path d="M714,506.5 L665.9,484.5 L664,490.2 L714,514.7" fill="none" stroke="#222" stroke-width="1.2"/>
<path d="M656.2,516.7 L660,516.7 L660,524.3 L662.5,524.3 L662.5,535 L656.2,535 Z" fill="#111"/>
<path d="M665.3,524.3 Q666,506 671,497" stroke="#222" stroke-width="1.0" fill="none" />
<path d="M671.5,495.5 L670.06,503.0 L672.94,503.0 Z" fill="#222"/>
<text x="675.1" y="535" font-size="9.5" fill="#222" text-anchor="start" font-family="Liberation Sans" textLength="33.1" lengthAdjust="spacingAndGlyphs" >Outside</text>
<rect x="647.3" y="539.2" width="70" height="16.4" stroke="#666" stroke-width="0.9" fill="none" />
<text x="652" y="550.2" font-size="9.5" fill="#222" text-anchor="start" font-family="Liberation Sans" textLength="62" lengthAdjust="spacingAndGlyphs" >Right Hand In-</text>
<text x="711.5" y="497" font-size="9.5" fill="#222" text-anchor="start" font-family="Liberation Sans" >I</text>
<text x="0.3" y="533.1" font-size="9.4" fill="#222" text-anchor="start" font-family="Liberation Sans" textLength="108.4" lengthAdjust="spacingAndGlyphs" >ding frame and threshold.</text>
<text x="0.9" y="541.9" font-size="9.6" fill="#222" text-anchor="start" font-family="Liberation Sans" textLength="183.1" lengthAdjust="spacingAndGlyphs" >to production might result in extra charges.</text>
<text x="0.2" y="549.6" font-size="7.6" fill="#222" text-anchor="start" font-family="Liberation Sans" textLength="452.1" lengthAdjust="spacingAndGlyphs" >y of everything we sell and hope you are pleased with your product, if for any reason you are unsatis□ ed you can write to one of our</text>
<text x="0.2" y="558.8" font-size="7.6" fill="#222" text-anchor="start" font-family="Liberation Sans" textLength="484.1" lengthAdjust="spacingAndGlyphs" >etermine how can we help you, but we do not accept returns in any of our products.Products are □ nal and are not eligible for returns, changes</text>
<text x="0.2" y="567.2" font-size="7.6" fill="#222" text-anchor="start" font-family="Liberation Sans" textLength="397.4" lengthAdjust="spacingAndGlyphs" >ms and conditions, delivery pdf and forms of payment. *Doors measurements do not include the gaps between jambs</text>
<line x1="0" y1="568.9" x2="519.4" y2="568.9" stroke="#222" stroke-width="1.8" />
<line x1="0" y1="617.4" x2="254.3" y2="617.4" stroke="#222" stroke-width="1.5" />
<line x1="0" y1="640" x2="254.3" y2="640" stroke="#222" stroke-width="1.5" />
<line x1="0" y1="662.9" x2="254.3" y2="662.9" stroke="#222" stroke-width="1.5" />
<line x1="0" y1="681.2" x2="254.3" y2="681.2" stroke="#222" stroke-width="1.5" />
<line x1="0" y1="704.3" x2="519.4" y2="704.3" stroke="#222" stroke-width="1.8" />
<line x1="254.3" y1="568" x2="254.3" y2="705" stroke="#222" stroke-width="1.5" />
<line x1="110.5" y1="640" x2="110.5" y2="662.9" stroke="#222" stroke-width="1.2" />
<line x1="254.3" y1="591.4" x2="519.4" y2="591.4" stroke="#222" stroke-width="1.5" />
<line x1="254.3" y1="611.8" x2="519.4" y2="611.8" stroke="#222" stroke-width="1.5" />
<line x1="254.3" y1="637.8" x2="519.4" y2="637.8" stroke="#222" stroke-width="1.5" />
<line x1="254.3" y1="661.3" x2="519.4" y2="661.3" stroke="#222" stroke-width="1.5" />
<line x1="254.3" y1="684.9" x2="519.4" y2="684.9" stroke="#222" stroke-width="1.5" />
<line x1="348.8" y1="591.4" x2="348.8" y2="611.8" stroke="#222" stroke-width="1.2" />
<line x1="363" y1="611.8" x2="363" y2="637.8" stroke="#222" stroke-width="1.2" />
<line x1="382.6" y1="661.3" x2="382.6" y2="684.9" stroke="#222" stroke-width="1.2" />
<line x1="471.7" y1="684.9" x2="471.7" y2="704.3" stroke="#222" stroke-width="1.2" />
<rect x="519.4" y="569.5" width="166" height="133.6" stroke="#222" stroke-width="1.6" fill="none" />
<text x="524.5" y="582.2" font-size="9" fill="#222" text-anchor="start" font-family="Liberation Sans" textLength="32.4" lengthAdjust="spacingAndGlyphs" >*Notes:</text>
<text x="524.5" y="593" font-size="9" fill="#888" text-anchor="start" font-family="Liberation Sans" textLength="53.9" lengthAdjust="spacingAndGlyphs" >-Color:Black</text>
<text x="524.5" y="606.7" font-size="9" fill="#888" text-anchor="start" font-family="Liberation Sans" textLength="49.5" lengthAdjust="spacingAndGlyphs" >-Glass:5/8"</text>
<line x1="693.2" y1="671.8" x2="713" y2="671.8" stroke="#222" stroke-width="1.2" />
<text x="708.6" y="687.8" font-size="11" fill="#222" text-anchor="start" font-family="Liberation Sans" >C</text>
<text x="20" y="578" font-size="7.8" fill="#222" text-anchor="end" font-family="Liberation Sans" >NDLE</text>
<rect x="23.250000000000004" y="573.45" width="10.899999999999999" height="9.199999999999978" stroke="#1a1a1a" stroke-width="1.7" fill="none" />
<text x="37.4" y="581.1" font-size="8.5" fill="#222" text-anchor="start" font-family="Liberation Sans" textLength="40" lengthAdjust="spacingAndGlyphs" >Iron handle:</text>
<line x1="77.5" y1="580.9" x2="151.5" y2="580.9" stroke="#222" stroke-width="1.0" />
<text x="37.4" y="588.4" font-size="5.8" fill="#222" text-anchor="start" font-family="Liberation Sans" textLength="108" lengthAdjust="spacingAndGlyphs" >(with rollercatch and deadbolt prep)</text>
<rect x="23.250000000000004" y="589.55" width="10.899999999999999" height="9.900000000000137" stroke="#1a1a1a" stroke-width="1.7" fill="none" />
<text x="37.4" y="598" font-size="8.5" fill="#222" text-anchor="start" font-family="Liberation Sans" textLength="116.9" lengthAdjust="spacingAndGlyphs" >American standard double boring</text>
<rect x="24.150000000000002" y="604.15" width="10.0" height="9.300000000000114" stroke="#1a1a1a" stroke-width="1.7" fill="none" />
<text x="38.3" y="611.9" font-size="8" fill="#222" text-anchor="start" font-family="Liberation Sans" textLength="20.5" lengthAdjust="spacingAndGlyphs" >Other:</text>
<line x1="63.8" y1="612.6" x2="140.4" y2="612.6" stroke="#222" stroke-width="1.0" />
<rect x="170.95" y="571.75" width="10.100000000000012" height="9.500000000000046" stroke="#1a1a1a" stroke-width="1.7" fill="none" />
<text x="184.2" y="580.8" font-size="8.5" fill="#222" text-anchor="start" font-family="Liberation Sans" textLength="57" lengthAdjust="spacingAndGlyphs" >Panic hardware</text>
<rect x="170.95" y="586.75" width="10.100000000000012" height="9.500000000000046" stroke="#1a1a1a" stroke-width="1.7" fill="none" />
<text x="184.2" y="595.5" font-size="8.5" fill="#222" text-anchor="start" font-family="Liberation Sans" textLength="42" lengthAdjust="spacingAndGlyphs" >Autocloser #</text>
<line x1="226" y1="596" x2="248" y2="596" stroke="#222" stroke-width="1.0" />
<rect x="171.85" y="603.05" width="9.000000000000018" height="8.600000000000069" stroke="#1a1a1a" stroke-width="1.7" fill="none" />
<text x="184.2" y="611" font-size="8.5" fill="#222" text-anchor="start" font-family="Liberation Sans" textLength="25" lengthAdjust="spacingAndGlyphs" >P. Bar #</text>
<line x1="204" y1="612" x2="228" y2="612" stroke="#222" stroke-width="1.0" />
<text x="17" y="626.5" font-size="7.8" fill="#222" text-anchor="end" font-family="Liberation Sans" >OLOR</text>
<text x="32.1" y="630.8" font-size="8.5" fill="#222" text-anchor="start" font-family="Liberation Sans" textLength="34.3" lengthAdjust="spacingAndGlyphs" >A. copper</text>
<text x="83.2" y="630.8" font-size="8.5" fill="#222" text-anchor="start" font-family="Liberation Sans" textLength="34.2" lengthAdjust="spacingAndGlyphs" >A. bronze</text>
<text x="132.4" y="630.8" font-size="8.5" fill="#222" text-anchor="start" font-family="Liberation Sans" textLength="24.4" lengthAdjust="spacingAndGlyphs" >Pewter</text>
<rect x="168.5" y="623.6" width="28.5" height="9.1" stroke="#222" stroke-width="1.1" fill="none" />
<text x="173.2" y="631.2" font-size="8.5" fill="#222" text-anchor="start" font-family="Liberation Sans" textLength="20.1" lengthAdjust="spacingAndGlyphs" >Black</text>
<line x1="215.2" y1="632" x2="247.3" y2="632" stroke="#222" stroke-width="1.0" />
<text x="42.7" y="649" font-size="7.8" fill="#222" text-anchor="end" font-family="Liberation Sans" >TIVE DOOR</text>
<text x="114.2" y="649" font-size="7.8" fill="#222" text-anchor="start" font-family="Liberation Sans" textLength="25.5" lengthAdjust="spacingAndGlyphs" >SWING</text>
<rect x="42.35" y="652.25" width="11.2" height="9.3" stroke="#1a1a1a" stroke-width="1.7" fill="none" />
<rect x="44.4" y="654.3" width="7.099999999999999" height="5.2" stroke="#222" stroke-width="0" fill="#111" />
<text x="55.8" y="660" font-size="8.5" fill="#222" text-anchor="start" font-family="Liberation Sans" textLength="19" lengthAdjust="spacingAndGlyphs" >Right</text>
<rect x="79.94999999999999" y="652.25" width="10.000000000000018" height="9.3" stroke="#1a1a1a" stroke-width="1.7" fill="none" />
<text x="93.4" y="660" font-size="8.5" fill="#222" text-anchor="start" font-family="Liberation Sans" textLength="13.5" lengthAdjust="spacingAndGlyphs" >Left</text>
<rect x="146.35" y="652.25" width="10.700000000000006" height="9.3" stroke="#1a1a1a" stroke-width="1.7" fill="none" />
<rect x="148.4" y="654.3" width="6.600000000000006" height="5.2" stroke="#222" stroke-width="0" fill="#111" />
<text x="159.4" y="660" font-size="8.5" fill="#222" text-anchor="start" font-family="Liberation Sans" textLength="6.5" lengthAdjust="spacingAndGlyphs" >In</text>
<rect x="178.04999999999998" y="652.25" width="11.100000000000012" height="9.3" stroke="#1a1a1a" stroke-width="1.7" fill="none" />
<text x="192.2" y="660" font-size="8.5" fill="#222" text-anchor="start" font-family="Liberation Sans" textLength="12.8" lengthAdjust="spacingAndGlyphs" >Out</text>
<text x="12.8" y="672" font-size="7.8" fill="#222" text-anchor="end" font-family="Liberation Sans" >MB:</text>
<text x="23.7" y="674" font-size="8" fill="#222" text-anchor="start" font-family="Liberation Sans" >4"</text>
<line x1="16.4" y1="675.7" x2="54" y2="675.7" stroke="#222" stroke-width="1.0" />
<text x="38.3" y="691" font-size="7.8" fill="#222" text-anchor="end" font-family="Liberation Sans" >RESHOLD</text>
<rect x="38.75" y="689.45" width="11.8" height="9.000000000000046" stroke="#1a1a1a" stroke-width="1.7" fill="none" />
<text x="54" y="697.6" font-size="8.5" fill="#222" text-anchor="start" font-family="Liberation Sans" textLength="38.3" lengthAdjust="spacingAndGlyphs" >Residential</text>
<rect x="94.14999999999999" y="689.45" width="11.200000000000006" height="9.000000000000046" stroke="#1a1a1a" stroke-width="1.7" fill="none" />
<text x="108.3" y="697.6" font-size="8.5" fill="#222" text-anchor="start" font-family="Liberation Sans" textLength="42" lengthAdjust="spacingAndGlyphs" >Commercial</text>
<line x1="150.3" y1="697.8" x2="187.1" y2="697.8" stroke="#222" stroke-width="1.0" />
<rect x="192.64999999999998" y="689.45" width="10.400000000000023" height="9.000000000000046" stroke="#1a1a1a" stroke-width="1.7" fill="none" />
<text x="206.8" y="697.6" font-size="8.5" fill="#222" text-anchor="start" font-family="Liberation Sans" textLength="13.8" lengthAdjust="spacingAndGlyphs" >N/A</text>
<line x1="222.5" y1="697.8" x2="243.6" y2="697.8" stroke="#222" stroke-width="1.0" />
<text x="261.6" y="576.9" font-size="7.8" fill="#222" text-anchor="start" font-family="Liberation Sans" textLength="62.8" lengthAdjust="spacingAndGlyphs" >DOOR/Glass type:</text>
<text x="270.6" y="586.7" font-size="8.5" fill="#222" text-anchor="start" font-family="Liberation Sans" textLength="17.7" lengthAdjust="spacingAndGlyphs" >Frost</text>
<text x="307.6" y="586.7" font-size="8.5" fill="#222" text-anchor="start" font-family="Liberation Sans" textLength="28.6" lengthAdjust="spacingAndGlyphs" >Aquatex</text>
<text x="356.7" y="586.7" font-size="8.5" fill="#222" text-anchor="start" font-family="Liberation Sans" textLength="16.1" lengthAdjust="spacingAndGlyphs" >Rain</text>
<text x="397.1" y="586.7" font-size="8.5" fill="#222" text-anchor="start" font-family="Liberation Sans" textLength="27.5" lengthAdjust="spacingAndGlyphs" >Flemish</text>
<text x="450.9" y="586.7" font-size="8.5" fill="#222" text-anchor="start" font-family="Liberation Sans" textLength="17.7" lengthAdjust="spacingAndGlyphs" >Clear</text>
<text x="502" y="586.7" font-size="8.5" fill="#222" text-anchor="start" font-family="Liberation Sans" textLength="13" lengthAdjust="spacingAndGlyphs" >N/A</text>
<rect x="265.95000000000005" y="597.55" width="9.699999999999978" height="8.500000000000046" stroke="#1a1a1a" stroke-width="1.7" fill="none" />
<text x="278.5" y="604.4" font-size="8.5" fill="#222" text-anchor="start" font-family="Liberation Sans" textLength="55" lengthAdjust="spacingAndGlyphs" >Hurricane rated</text>
<rect x="370.05000000000007" y="597.55" width="9.699999999999921" height="8.500000000000046" stroke="#1a1a1a" stroke-width="1.7" fill="none" />
<rect x="372.1" y="599.5999999999999" width="5.599999999999921" height="4.400000000000046" stroke="#222" stroke-width="0" fill="#111" />
<text x="383.4" y="604.4" font-size="8.5" fill="#222" text-anchor="start" font-family="Liberation Sans" textLength="33.3" lengthAdjust="spacingAndGlyphs" >Operable</text>
<rect x="419.15000000000003" y="597.55" width="10.099999999999955" height="8.500000000000046" stroke="#1a1a1a" stroke-width="1.7" fill="none" />
<text x="432.5" y="604.4" font-size="11" fill="#222" text-anchor="start" font-family="Liberation Sans" textLength="45.1" lengthAdjust="spacingAndGlyphs" >Screen or</text>
<rect x="483.95000000000005" y="597.55" width="10.899999999999967" height="8.500000000000046" stroke="#1a1a1a" stroke-width="1.7" fill="none" />
<text x="497.3" y="604.4" font-size="8.5" fill="#222" text-anchor="start" font-family="Liberation Sans" textLength="19.6" lengthAdjust="spacingAndGlyphs" >Fixed</text>
<text x="261.6" y="620.1" font-size="7.8" fill="#222" text-anchor="start" font-family="Liberation Sans" textLength="38.1" lengthAdjust="spacingAndGlyphs" >TRANSOM</text>
<text x="262.4" y="630.7" font-size="8.5" fill="#222" text-anchor="start" font-family="Liberation Sans" textLength="38.5" lengthAdjust="spacingAndGlyphs" >Glass type:</text>
<line x1="300.9" y1="631.5" x2="346.8" y2="631.5" stroke="#222" stroke-width="1.0" />
<text x="367.7" y="620.1" font-size="7.8" fill="#222" text-anchor="start" font-family="Liberation Sans" textLength="45.1" lengthAdjust="spacingAndGlyphs" >SIDELIGHTS</text>
<text x="372.4" y="630.7" font-size="8.5" fill="#222" text-anchor="start" font-family="Liberation Sans" textLength="39.2" lengthAdjust="spacingAndGlyphs" >Glass type:</text>
<line x1="411.6" y1="631.5" x2="454.8" y2="631.5" stroke="#222" stroke-width="1.0" />
<rect x="466.25000000000006" y="623.05" width="10.899999999999967" height="9.400000000000137" stroke="#1a1a1a" stroke-width="1.7" fill="none" />
<text x="480.4" y="630.7" font-size="8.5" fill="#222" text-anchor="start" font-family="Liberation Sans" textLength="25.5" lengthAdjust="spacingAndGlyphs" >Screen</text>
<text x="261.6" y="645.6" font-size="7.8" fill="#222" text-anchor="start" font-family="Liberation Sans" textLength="18.9" lengthAdjust="spacingAndGlyphs" >TRIM</text>
<rect x="284.85" y="644.65" width="10.49999999999999" height="9.400000000000023" stroke="#1a1a1a" stroke-width="1.7" fill="none" />
<text x="298.9" y="652.3" font-size="8.5" fill="#222" text-anchor="start" font-family="Liberation Sans" textLength="20.8" lengthAdjust="spacingAndGlyphs" >Inside</text>
<line x1="322.5" y1="654" x2="348" y2="654" stroke="#222" stroke-width="1.0" />
<rect x="357.45000000000005" y="644.65" width="9.799999999999944" height="9.400000000000023" stroke="#1a1a1a" stroke-width="1.7" fill="none" />
<text x="371.6" y="652.3" font-size="8.5" fill="#222" text-anchor="start" font-family="Liberation Sans" textLength="26.7" lengthAdjust="spacingAndGlyphs" >Outside</text>
<line x1="400" y1="654" x2="426.6" y2="654" stroke="#222" stroke-width="1.0" />
<rect x="453.75000000000006" y="644.65" width="10.499999999999932" height="9.400000000000023" stroke="#1a1a1a" stroke-width="1.7" fill="none" />
<rect x="455.8" y="646.6999999999999" width="6.399999999999932" height="5.300000000000023" stroke="#222" stroke-width="0" fill="#111" />
<text x="467.8" y="652.3" font-size="8.5" fill="#222" text-anchor="start" font-family="Liberation Sans" textLength="13.8" lengthAdjust="spacingAndGlyphs" >N/A</text>
<text x="261.6" y="670" font-size="7.8" fill="#222" text-anchor="start" font-family="Liberation Sans" textLength="36.5" lengthAdjust="spacingAndGlyphs" >PACKAGE</text>
<rect x="302.45000000000005" y="667.05" width="9.799999999999944" height="10.500000000000046" stroke="#1a1a1a" stroke-width="1.7" fill="none" />
<rect x="304.5" y="669.0999999999999" width="5.699999999999943" height="6.400000000000046" stroke="#222" stroke-width="0" fill="#111" />
<text x="315.4" y="675.9" font-size="8.5" fill="#222" text-anchor="start" font-family="Liberation Sans" textLength="14.2" lengthAdjust="spacingAndGlyphs" >Box</text>
<rect x="334.75000000000006" y="667.05" width="10.799999999999944" height="10.500000000000046" stroke="#1a1a1a" stroke-width="1.7" fill="none" />
<text x="348.8" y="675.9" font-size="8.5" fill="#222" text-anchor="start" font-family="Liberation Sans" textLength="25.5" lengthAdjust="spacingAndGlyphs" >No box</text>
<rect x="391.65000000000003" y="667.05" width="9.699999999999978" height="10.500000000000046" stroke="#1a1a1a" stroke-width="1.7" fill="none" />
<text x="404.2" y="675.9" font-size="8.5" fill="#222" text-anchor="start" font-family="Liberation Sans" textLength="21.2" lengthAdjust="spacingAndGlyphs" >Install</text>
<rect x="430.95000000000005" y="667.05" width="10.099999999999955" height="10.500000000000046" stroke="#1a1a1a" stroke-width="1.7" fill="none" />
<text x="444.2" y="675.9" font-size="8.5" fill="#222" text-anchor="start" font-family="Liberation Sans" textLength="28.7" lengthAdjust="spacingAndGlyphs" >Delivery</text>
<rect x="478.85" y="667.05" width="10.099999999999955" height="10.500000000000046" stroke="#1a1a1a" stroke-width="1.7" fill="none" />
<rect x="480.9" y="669.0999999999999" width="5.999999999999955" height="6.400000000000046" stroke="#222" stroke-width="0" fill="#111" />
<text x="491.4" y="675.9" font-size="8.5" fill="#222" text-anchor="start" font-family="Liberation Sans" textLength="13.7" lengthAdjust="spacingAndGlyphs" >LTL</text>
<text x="256.5" y="692.8" font-size="7.8" fill="#222" text-anchor="start" font-family="Liberation Sans" textLength="67.9" lengthAdjust="spacingAndGlyphs" >GLASS TEMPLATE</text>
<rect x="327.65000000000003" y="691.05" width="10.099999999999955" height="8.900000000000137" stroke="#1a1a1a" stroke-width="1.7" fill="none" />
<rect x="329.7" y="693.0999999999999" width="5.999999999999955" height="4.800000000000137" stroke="#222" stroke-width="0" fill="#111" />
<text x="341.3" y="699" font-size="8.5" fill="#222" text-anchor="start" font-family="Liberation Sans" textLength="48" lengthAdjust="spacingAndGlyphs" >Sent #Pieces</text>
<line x1="375" y1="699.5" x2="423.4" y2="699.5" stroke="#222" stroke-width="1.0" />
<rect x="434.85" y="691.05" width="10.099999999999955" height="8.900000000000137" stroke="#1a1a1a" stroke-width="1.7" fill="none" />
<text x="448.2" y="699" font-size="8.5" fill="#222" text-anchor="start" font-family="Liberation Sans" textLength="13.7" lengthAdjust="spacingAndGlyphs" >N/A</text>
<text x="475.7" y="695.5" font-size="7.8" fill="#222" text-anchor="start" font-family="Liberation Sans" textLength="42.3" lengthAdjust="spacingAndGlyphs" >GAUGE: 14</text>
</svg></body></html>
